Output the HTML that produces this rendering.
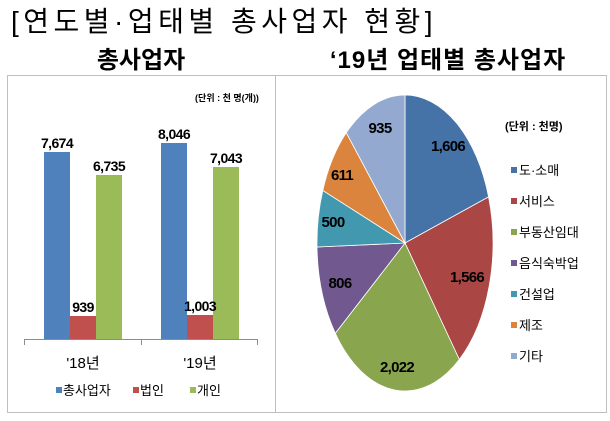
<!DOCTYPE html>
<html><head><meta charset="utf-8"><style>
body{margin:0;background:#fff;width:610px;height:416px;overflow:hidden;font-family:"Liberation Sans","Noto Sans CJK KR",sans-serif}
</style></head><body>
<svg width="610" height="416" xmlns="http://www.w3.org/2000/svg" font-family="Liberation Sans, Noto Sans CJK KR, sans-serif">
<text x="11" y="31" font-size="28" letter-spacing="4.5" fill="#000">[연도별·업태별 총사업자 현황]</text>
<text x="141" y="68" font-size="24" font-weight="bold" text-anchor="middle">총사업자</text>
<text x="448" y="68" font-size="24" font-weight="bold" text-anchor="middle" letter-spacing="1">‘19년 업태별 총사업자</text>
<rect x="7.5" y="75.5" width="268" height="337" fill="none" stroke="#bfbfbf"/>
<rect x="275.5" y="75.5" width="331" height="337" fill="none" stroke="#bfbfbf"/>
<text x="227" y="101" font-size="9" font-weight="bold" text-anchor="middle">(단위 : 천 명(개))</text>
<rect x="44" y="152" width="26" height="187" fill="#4f81bd"/>
<rect x="70" y="316" width="26" height="23" fill="#c0504d"/>
<rect x="96" y="175" width="26" height="164" fill="#9bbb59"/>
<rect x="161" y="143" width="26" height="196" fill="#4f81bd"/>
<rect x="187" y="315" width="26" height="24" fill="#c0504d"/>
<rect x="213" y="167" width="26" height="172" fill="#9bbb59"/>
<g font-size="14" font-weight="bold" text-anchor="middle" letter-spacing="-0.6">
<text x="57" y="148">7,674</text><text x="83" y="312">939</text><text x="109" y="171">6,735</text>
<text x="174" y="139">8,046</text><text x="200" y="311">1,003</text><text x="226" y="163">7,043</text>
</g>
<path d="M24 339.5H258M24.5 339v6M141.5 339v6M257.5 339v6" stroke="#8c8c8c" fill="none"/>
<text x="83" y="368" font-size="15" text-anchor="middle">'18년</text>
<text x="200" y="368" font-size="15" text-anchor="middle">'19년</text>
<rect x="56" y="387" width="6" height="6" fill="#4f81bd"/><text x="63" y="395" font-size="13">총사업자</text>
<rect x="133" y="387" width="6" height="6" fill="#c0504d"/><text x="140" y="395" font-size="13">법인</text>
<rect x="190" y="387" width="6" height="6" fill="#9bbb59"/><text x="197" y="395" font-size="13">개인</text>
<g stroke="#fff" stroke-width="0.8">
<path d="M405 243L405 95A88 148 0 0 1 488.6 196.9Z" fill="#4572a7"/>
<path d="M405 243L488.6 196.9A88 148 0 0 1 459.3 359.5Z" fill="#aa4643"/>
<path d="M405 243L459.3 359.5A88 148 0 0 1 335.3 333.3Z" fill="#89a54e"/>
<path d="M405 243L335.3 333.3A88 148 0 0 1 317 247Z" fill="#71588f"/>
<path d="M405 243L317 247A88 148 0 0 1 322.8 190.4Z" fill="#4198af"/>
<path d="M405 243L322.8 190.4A88 148 0 0 1 346.3 132.7Z" fill="#db843d"/>
<path d="M405 243L346.3 132.7A88 148 0 0 1 405 95Z" fill="#93a9cf"/>
</g>
<g font-size="15" font-weight="bold" text-anchor="middle" letter-spacing="-0.7">
<text x="448" y="151">1,606</text><text x="467" y="282">1,566</text><text x="397" y="372">2,022</text>
<text x="340" y="288">806</text><text x="333" y="227">500</text><text x="342" y="180">611</text><text x="380" y="133">935</text>
</g>
<text x="505" y="130" font-size="11" font-weight="bold">(단위 : 천명)</text>
<g font-size="13">
<rect x="511" y="167" width="6" height="6" fill="#4572a7"/><text x="519" y="175">도·소매</text>
<rect x="511" y="198" width="6" height="6" fill="#aa4643"/><text x="519" y="206">서비스</text>
<rect x="511" y="229" width="6" height="6" fill="#89a54e"/><text x="519" y="237">부동산임대</text>
<rect x="511" y="260" width="6" height="6" fill="#71588f"/><text x="519" y="268">음식숙박업</text>
<rect x="511" y="291" width="6" height="6" fill="#4198af"/><text x="519" y="299">건설업</text>
<rect x="511" y="322" width="6" height="6" fill="#db843d"/><text x="519" y="330">제조</text>
<rect x="511" y="353" width="6" height="6" fill="#93a9cf"/><text x="519" y="361">기타</text>
</g>
</svg>
</body></html>
